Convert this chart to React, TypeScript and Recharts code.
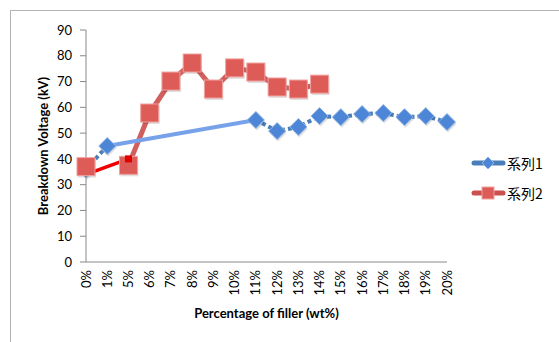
import React from "react";
import { LineChart, Line, XAxis, YAxis } from "recharts";

const categories = [
  "0%", "1%", "5%", "6%", "7%", "8%", "9%", "10%", "11%",
  "12%", "13%", "14%", "15%", "16%", "17%", "18%", "19%", "20%",
];
// 系列1 – no readings between 1% and 11%
const series1 = [36, 45, null, null, null, null, null, null, 55.1, 50.8, 52.4, 56.6, 56.2, 57.4, 57.8, 56.2, 56.6, 54.3];
const series2 = [37, null, 37.5, 57.8, 70.2, 77.2, 67.1, 75.3, 73.7, 67.9, 67.1, 69.0, null, null, null, null, null, null];
// hand-drawn red connector 0% -> 5%
const redLink = [34, null, 40, null, null, null, null, null, null, null, null, null, null, null, null, null, null, null];
const yTicks = [0, 10, 20, 30, 40, 50, 60, 70, 80, 90];
const seriesNames = ["系列1", "系列2"];

// light blue bridge over the gap in 系列1 (first point before and after it)
const bridge = series1.map((v, i) =>
  v !== null && (series1[i + 1] === null || series1[i - 1] === null) && i > 0 ? v : null
);

const data = categories.map((c, i) => ({
  cat: c,
  s1: series1[i],
  s2: series2[i],
  link: redLink[i],
  bridge: bridge[i],
}));

const FONT = "Lato, 'Open Sans', sans-serif";
const BLUE = "#4a7ebb";
const RED = "#c9504d";

const Diamond = (props: any) => {
  const { cx, cy, index } = props;
  if (cx == null || cy == null || props.value == null) return <g key={`d${index}`} />;
  const r = 8.5;
  const pts = (dx: number, dy: number) =>
    `${cx + dx},${cy - r + dy} ${cx + r + dx},${cy + dy} ${cx + dx},${cy + r + dy} ${cx - r + dx},${cy + dy}`;
  return (
    <g key={`d${index}`}>
      <polygon points={pts(1, 2)} fill="rgba(0,0,0,0.12)" />
      <polygon points={pts(0, 0)} fill="#4d86d6" stroke="#8fb4e6" strokeWidth={1} />
    </g>
  );
};

const Square = (props: any) => {
  const { cx, cy, index } = props;
  if (cx == null || cy == null || props.value == null) return <g key={`s${index}`} />;
  const h = 9;
  return (
    <g key={`s${index}`}>
      <rect x={cx - h + 1} y={cy - h + 2} width={h * 2} height={h * 2} fill="rgba(0,0,0,0.12)" />
      <rect x={cx - h} y={cy - h} width={h * 2} height={h * 2} fill="#dd5c58" stroke="#f0a19e" strokeWidth={1} />
    </g>
  );
};

// small marker only at the far end of the red connector
const LinkEnd = (props: any) => {
  const { cx, cy, index } = props;
  if (cx == null || cy == null || props.value == null || index === 0) return <g key={`l${index}`} />;
  return <rect key={`l${index}`} x={cx - 3.5} y={cy - 3.5} width={7} height={7} fill="#e00000" />;
};

const XTick = (props: any) => {
  const { x, y, payload } = props;
  return (
    <text
      x={x}
      y={y}
      dy={4.5}
      transform={`rotate(-90, ${x}, ${y})`}
      textAnchor="end"
      fill="#000"
      fontSize={13}
      fontFamily={FONT}
    >
      {payload.value}
    </text>
  );
};

const LegendBox = () => (
  <div style={{ fontFamily: "'Noto Sans CJK JP', sans-serif", fontSize: 14, color: "#000" }}>
    {seriesNames.map((name, i) => (
      <div key={name} style={{ display: "flex", alignItems: "center", height: 30 }}>
        <svg width={36} height={16}>
          <line x1={4} y1={8} x2={33} y2={8} stroke={i === 0 ? BLUE : RED} strokeWidth={5} strokeLinecap="round" />
          {i === 0 ? (
            <polygon points="18,2 24,8 18,14 12,8" fill="#4d86d6" stroke="#8fb4e6" />
          ) : (
            <rect x={12} y={2} width={12} height={12} fill="#dd5c58" stroke="#f0a19e" />
          )}
        </svg>
        <span style={{ marginLeft: 1 }}>{name}</span>
      </div>
    ))}
  </div>
);

export default function App() {
  return (
    <div style={{ position: "absolute", left: 0, top: 0, width: 559, height: 342, overflow: "hidden", background: "#fff" }}>
      <div style={{ position: "absolute", left: 10, top: 10, width: 600, height: 400, border: "1px solid #b3b3b3" }} />
      <div style={{ position: "absolute", left: 0, top: 0 }}>
        <LineChart width={559} height={342} data={data} margin={{ top: 30, right: 112, bottom: 20, left: 40 }}>
          <XAxis
            dataKey="cat"
            tick={<XTick />}
            tickLine={false}
            tickSize={0}
            tickMargin={8}
            interval={0}
            height={60}
            axisLine={{ stroke: "#888", strokeWidth: 1 }}
            label={{
              value: "Percentage of filler (wt%)",
              position: "insideBottom",
              offset: 4,
              style: { fontFamily: FONT, fontSize: 13, fontWeight: 700, fill: "#000" },
            }}
          />
          <YAxis
            width={46}
            domain={[0, 90]}
            ticks={yTicks}
            interval={0}
            tickSize={6}
            tickMargin={8}
            axisLine={{ stroke: "#888" }}
            tickLine={{ stroke: "#888" }}
            tick={{ fill: "#000", fontSize: 13, fontFamily: FONT }}
            label={{
              value: "Breakdown Voltage (kV)",
              angle: -90,
              position: "center",
              dx: -20,
              style: { fontFamily: FONT, fontSize: 13, fontWeight: 700, fill: "#000", textAnchor: "middle" },
            }}
          />
          <Line dataKey="s1" stroke={BLUE} strokeWidth={4} strokeDasharray="4 3" dot={<Diamond />} activeDot={false} isAnimationActive={false} />
          <Line dataKey="link" stroke="#f00000" strokeWidth={3.5} dot={false} activeDot={false} connectNulls isAnimationActive={false} />
          <Line dataKey="s2" stroke="#d0605d" strokeWidth={5} dot={<Square />} activeDot={false} isAnimationActive={false} />
          <Line dataKey="bridge" stroke="#77a2ea" strokeWidth={4} dot={false} activeDot={false} connectNulls isAnimationActive={false} />
          <Line dataKey="link" stroke="none" dot={<LinkEnd />} activeDot={false} connectNulls isAnimationActive={false} />
        </LineChart>
      </div>
      <div style={{ position: "absolute", left: 470, top: 148 }}>
        <LegendBox />
      </div>
    </div>
  );
}
